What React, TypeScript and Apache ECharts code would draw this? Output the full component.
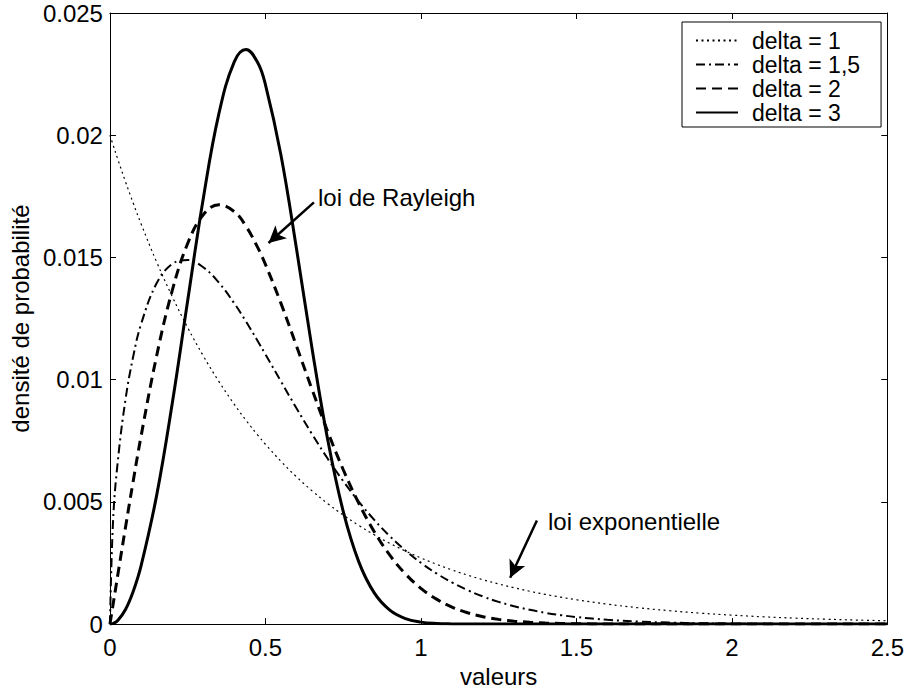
import React, { useEffect, useRef } from "react";
import * as echarts from "echarts";

// x values (valeurs)
const xs = [0, 0.01, 0.025, 0.05, 0.075, 0.1, 0.15, 0.2, 0.25, 0.3, 0.35, 0.4, 0.4375, 0.475, 0.5, 0.55, 0.6, 0.65, 0.7, 0.75, 0.8, 0.85, 0.9, 0.95, 1.0, 1.05, 1.1, 1.15, 1.2, 1.25, 1.3, 1.35, 1.4, 1.45, 1.5, 1.6, 1.7, 1.8, 1.9, 2.0, 2.1, 2.2, 2.3, 2.4, 2.5];

// densité de probabilité
const delta1 = [0.02, 0.019604, 0.019025, 0.018097, 0.017214, 0.016375, 0.014816, 0.013406, 0.012131, 0.010976, 0.009932, 0.008987, 0.008337, 0.007735, 0.007358, 0.006657, 0.006024, 0.005451, 0.004932, 0.004463, 0.004038, 0.003654, 0.003306, 0.002991, 0.002707, 0.002449, 0.002216, 0.002005, 0.001814, 0.001642, 0.001486, 0.001344, 0.001216, 0.001101, 0.000996, 0.000815, 0.000667, 0.000546, 0.000447, 0.000366, 0.0003, 0.000246, 0.000201, 0.000165, 0.000135];
const delta15 = [0, 0.004231, 0.006634, 0.009191, 0.010963, 0.012268, 0.013941, 0.014733, 0.014896, 0.0146, 0.013974, 0.013119, 0.012378, 0.011584, 0.011036, 0.009926, 0.008827, 0.007769, 0.006772, 0.005853, 0.005014, 0.004263, 0.003597, 0.003013, 0.002508, 0.002073, 0.001703, 0.00139, 0.001128, 0.000911, 0.000731, 0.000584, 0.000463, 0.000366, 0.000288, 0.000175, 0.000105, 0.000061, 0.000035, 0.00002, 0.000011, 0.000006, 0.000003, 0.000002, 0.000001];
const delta2 = [0, 0.0008, 0.001995, 0.00396, 0.005867, 0.007686, 0.010967, 0.013634, 0.015576, 0.016744, 0.017154, 0.016873, 0.016276, 0.015411, 0.014715, 0.013121, 0.011373, 0.009595, 0.007888, 0.006324, 0.004947, 0.003779, 0.00282, 0.002056, 0.001465, 0.001021, 0.000696, 0.000464, 0.000302, 0.000193, 0.000121, 0.000074, 0.000044, 0.000026, 0.000015, 0.000005, 0.000001, 0, 0, 0, 0, 0, 0, 0, 0];
const delta3 = [0, 0.000024, 0.00015, 0.000599, 0.001345, 0.002381, 0.005256, 0.009005, 0.013238, 0.017404, 0.020864, 0.023013, 0.023508, 0.022975, 0.022073, 0.019182, 0.015348, 0.011269, 0.007562, 0.00462, 0.002556, 0.001275, 0.00057, 0.000227, 0.000081, 0.000025, 0.000007, 0.000002, 0, 0, 0, 0, 0, 0, 0, 0, 0, 0, 0, 0, 0, 0, 0, 0, 0];

const seriesNames = ["delta = 1", "delta = 1,5", "delta = 2", "delta = 3"];

// annotation arrows (tail -> head) in data coordinates
const rayleighArrow = [[0.656, 0.01725], [0.51, 0.01559]];
const expoArrow = [[1.373, 0.00424], [1.287, 0.0019]];

const FONT = "'Liberation Sans', Arial, Helvetica, sans-serif";
const FS = 24;

export default function App() {
  const ref = useRef<HTMLDivElement>(null);
  useEffect(() => {
    if (!ref.current) return;
    const chart = echarts.init(ref.current, null, { renderer: "svg" });
    const pairs = (ys: number[]) => xs.map((x, i) => [x, ys[i]]);
    const axisCommon = {
      type: "value" as const,
      axisLine: { show: true, onZero: false, lineStyle: { color: "#000", width: 1 } },
      axisTick: { show: true, inside: true, length: 6, lineStyle: { color: "#000", width: 1 } },
      splitLine: { show: false },
    };
    const option: any = {
      animation: false,
      backgroundColor: "#fff",
      textStyle: { fontFamily: FONT, color: "#000" },
      grid: { left: 104, right: 18, top: 13, bottom: 61 },
      legend: {
        left: 682,
        top: 22,
        orient: "vertical",
        backgroundColor: "#fff",
        borderColor: "#000",
        borderWidth: 1,
        borderRadius: 0,
        padding: [7, 21, 3, 13],
        itemWidth: 42,
        itemHeight: 14,
        itemGap: 1,
        itemStyle: { opacity: 0 },
        textStyle: { fontFamily: FONT, fontSize: 23, color: "#000", lineHeight: 23, padding: [0, 0, 0, 9] },
        data: seriesNames,
      },
      xAxis: [
        {
          ...axisCommon,
          min: 0,
          max: 2.5,
          interval: 0.5,
          position: "bottom",
          axisLabel: { fontFamily: FONT, fontSize: FS, color: "#000", margin: 11 },
          name: "valeurs",
          nameLocation: "middle",
          nameGap: 34,
          nameTextStyle: { fontFamily: FONT, fontSize: FS, color: "#000" },
        },
        {
          ...axisCommon,
          min: 0,
          max: 2.5,
          interval: 0.5,
          position: "top",
          axisLabel: { show: false },
        },
      ],
      yAxis: [
        {
          ...axisCommon,
          min: 0,
          max: 0.025,
          interval: 0.005,
          position: "left",
          axisLabel: { fontFamily: FONT, fontSize: FS, color: "#000", margin: 7 },
          name: "densité de probabilité",
          nameLocation: "middle",
          nameGap: 70,
          nameTextStyle: { fontFamily: FONT, fontSize: FS, color: "#000" },
        },
        {
          ...axisCommon,
          min: 0,
          max: 0.025,
          interval: 0.005,
          position: "right",
          axisLabel: { show: false },
        },
      ],
      series: [
        {
          name: seriesNames[0],
          type: "line",
          symbol: "none",
          smooth: 0.4,
          data: pairs(delta1),
          lineStyle: { color: "#000", width: 1.2, type: [2, 3.5] },
          itemStyle: { color: "#000" },
        },
        {
          name: seriesNames[1],
          type: "line",
          symbol: "none",
          smooth: 0.4,
          data: pairs(delta15),
          lineStyle: { color: "#000", width: 2, type: [9, 4, 2, 4] },
          itemStyle: { color: "#000" },
        },
        {
          name: seriesNames[2],
          type: "line",
          symbol: "none",
          smooth: 0.4,
          data: pairs(delta2),
          lineStyle: { color: "#000", width: 3, type: [10, 6] },
          itemStyle: { color: "#000" },
        },
        {
          name: seriesNames[3],
          type: "line",
          symbol: "none",
          smooth: 0.4,
          data: pairs(delta3),
          lineStyle: { color: "#000", width: 3, type: "solid" },
          itemStyle: { color: "#000" },
          markLine: {
            silent: true,
            symbol: ["none", "arrow"],
            symbolSize: [13, 17],
            label: { show: false },
            lineStyle: { color: "#000", width: 2.5, type: "solid" },
            itemStyle: { color: "#000" },
            data: [
              [{ coord: rayleighArrow[0] }, { coord: rayleighArrow[1] }],
              [{ coord: expoArrow[0] }, { coord: expoArrow[1] }],
            ],
          },
        },
      ],
      graphic: [
        {
          type: "text",
          left: 318,
          top: 185,
          style: { text: "loi de Rayleigh", font: `${FS}px ${FONT}`, fill: "#000" },
        },
        {
          type: "text",
          left: 548,
          top: 509,
          style: { text: "loi exponentielle", font: `${FS}px ${FONT}`, fill: "#000" },
        },
      ],
    };
    chart.setOption(option);
    return () => chart.dispose();
  }, []);
  return (
    <div
      ref={ref}
      style={{ position: "absolute", left: 0, top: 0, width: 907, height: 693, background: "#fff" }}
    />
  );
}
